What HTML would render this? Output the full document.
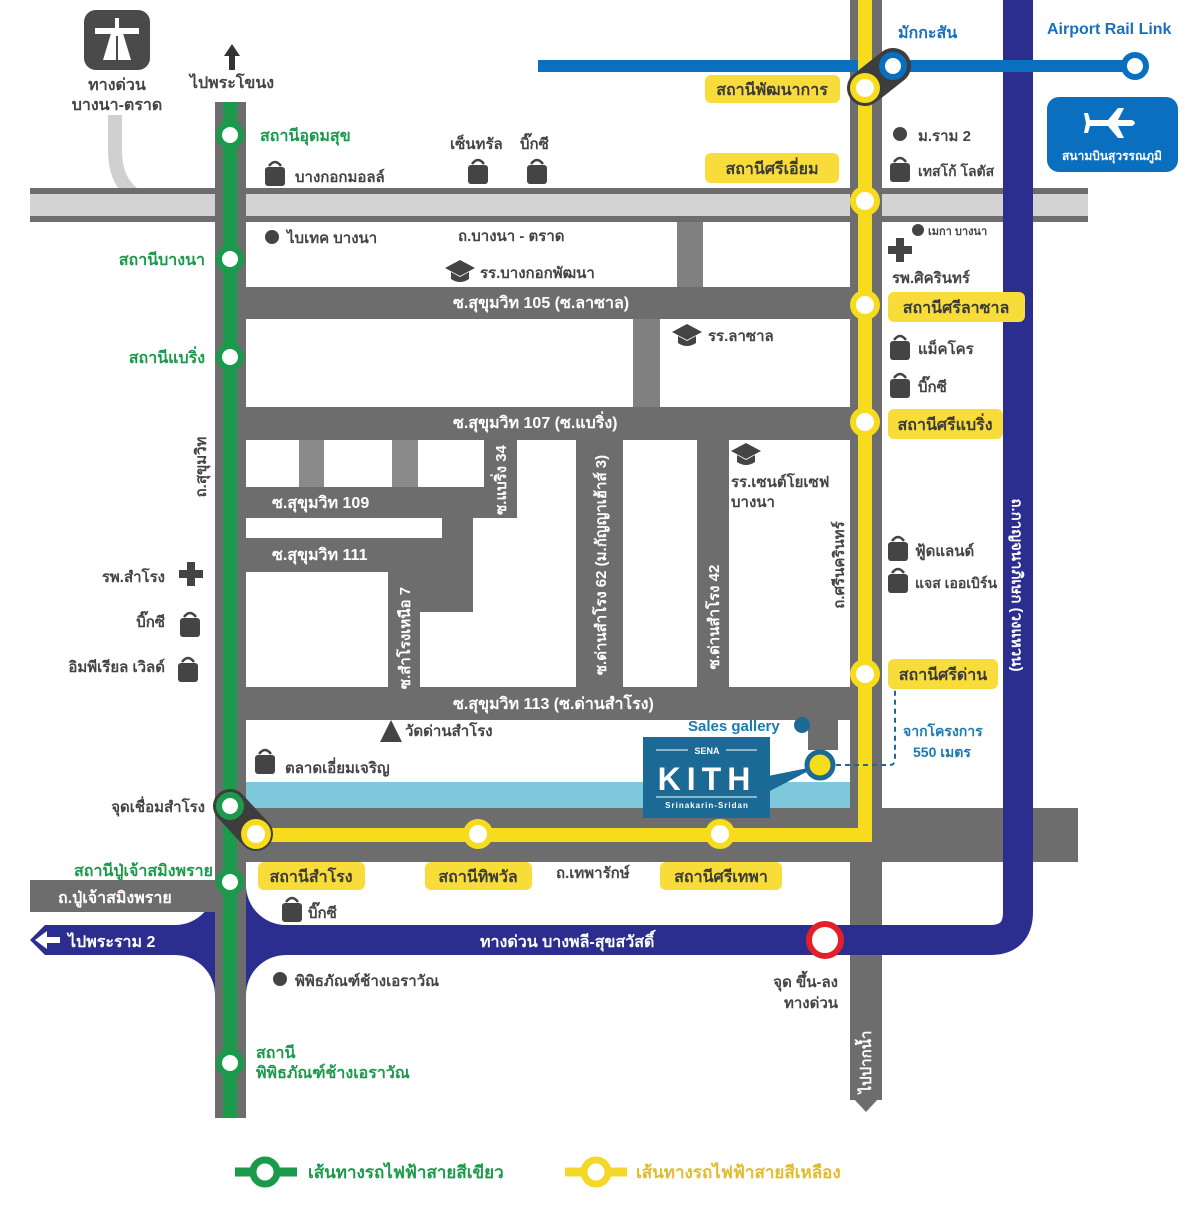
<!DOCTYPE html>
<html><head><meta charset="utf-8">
<style>
html,body{margin:0;padding:0;background:#fff;}
svg{display:block;}
text{font-family:"Liberation Sans","DejaVu Sans",sans-serif;font-weight:bold;}
</style></head>
<body>
<svg width="1200" height="1211" viewBox="0 0 1200 1211" xmlns="http://www.w3.org/2000/svg">
<defs>
  <g id="bag"><path d="M4 4 Q10 -4 16 4" fill="none" stroke="#444" stroke-width="2.5"/><rect x="0" y="5" width="20" height="19" rx="3" fill="#444"/></g>
  <g id="cap"><polygon points="0,8 15,0 30,8 15,16" fill="#444"/><path d="M6 12 V19 Q15 25 24 19 V12 L15 17 Z" fill="#444"/></g>
  <g id="cross"><rect x="-4" y="-12" width="8" height="24" fill="#444"/><rect x="-12" y="-4" width="24" height="8" fill="#444"/></g>
</defs>

<rect x="84" y="10" width="66" height="60" rx="12" fill="#4a4a4a"/>
<polygon points="103,60 112,30 122,30 131,60" fill="#fff"/>
<rect x="95" y="28" width="44" height="6" fill="#fff"/>
<rect x="115" y="18" width="4" height="12" fill="#fff"/>
<line x1="117" y1="36" x2="117" y2="60" stroke="#4a4a4a" stroke-width="2"/>
<text x="117" y="90" font-size="16" fill="#444" text-anchor="middle">ทางด่วน</text>
<text x="117" y="110" font-size="16" fill="#444" text-anchor="middle">บางนา-ตราด</text>
<polygon points="232,44 224,56 229,56 229,70 235,70 235,56 240,56" fill="#333"/>
<text x="232" y="88" font-size="16" fill="#444" text-anchor="middle">ไปพระโขนง</text>

<path d="M115 115 V150 Q115 205 175 205" fill="none" stroke="#d0d0d0" stroke-width="14"/>

<rect x="30" y="188" width="1058" height="34" fill="#6d6d6d"/>
<rect x="30" y="194" width="1058" height="22" fill="#d3d3d3"/>

<rect x="215" y="102" width="31" height="1016" fill="#6d6d6d"/>
<rect x="246" y="222" width="604" height="588" fill="#6d6d6d"/>
<rect x="850" y="0" width="32" height="1100" fill="#6d6d6d"/>
<polygon points="853,1098 879,1098 866,1112" fill="#6d6d6d"/>
<rect x="230" y="808" width="848" height="54" fill="#6d6d6d"/>

<rect x="246" y="222" width="431" height="65" fill="#fff"/>
<rect x="677" y="222" width="26" height="65" fill="#808080"/>
<rect x="703" y="222" width="147" height="65" fill="#fff"/>
<rect x="246" y="319" width="387" height="88" fill="#fff"/>
<rect x="633" y="319" width="27" height="88" fill="#808080"/>
<rect x="660" y="319" width="190" height="88" fill="#fff"/>
<rect x="246" y="440" width="53" height="47" fill="#fff"/>
<rect x="299" y="440" width="25" height="47" fill="#8a8a8a"/>
<rect x="324" y="440" width="68" height="47" fill="#fff"/>
<rect x="392" y="440" width="26" height="47" fill="#8a8a8a"/>
<rect x="418" y="440" width="66" height="47" fill="#fff"/>
<rect x="246" y="518" width="196" height="20" fill="#fff"/>
<rect x="246" y="572" width="142" height="115" fill="#fff"/>
<rect x="420" y="612" width="53" height="75" fill="#fff"/>
<rect x="473" y="518" width="44" height="169" fill="#fff"/>
<rect x="517" y="440" width="59" height="247" fill="#fff"/>
<rect x="623" y="440" width="74" height="247" fill="#fff"/>
<rect x="729" y="440" width="121" height="247" fill="#fff"/>
<rect x="246" y="720" width="604" height="62" fill="#fff"/>
<rect x="246" y="782" width="604" height="26" fill="#7ec8dc"/>
<rect x="808" y="720" width="30" height="30" fill="#6d6d6d"/>

<path d="M1018 0 V912 Q1018 940 990 940 H45" fill="none" stroke="#2b2e8e" stroke-width="30"/>
<polygon points="30,940 45,925 45,955" fill="#2b2e8e"/>
<path d="M215,885 V925 H175 A40,40 0 0 0 215,885 Z" fill="#2b2e8e"/>
<path d="M246,885 V925 H286 A40,40 0 0 1 246,885 Z" fill="#2b2e8e"/>
<path d="M215,995 V955 H175 A40,40 0 0 1 215,995 Z" fill="#2b2e8e"/>
<path d="M246,995 V955 H286 A40,40 0 0 0 246,995 Z" fill="#2b2e8e"/>
<rect x="215" y="880" width="31" height="120" fill="#6d6d6d"/>
<rect x="30" y="880" width="185" height="32" fill="#6d6d6d"/>

<line x1="538" y1="66" x2="1135" y2="66" stroke="#0b6fc0" stroke-width="12"/>

<line x1="230" y1="102" x2="230" y2="1118" stroke="#1a9a4a" stroke-width="14"/>
<polyline points="865,0 865,835 255,835" fill="none" stroke="#f7dc1e" stroke-width="14"/>

<line x1="230" y1="806" x2="256" y2="834" stroke="#3d3d3d" stroke-width="34" stroke-linecap="round"/>
<line x1="865" y1="88" x2="893" y2="66" stroke="#3d3d3d" stroke-width="36" stroke-linecap="round"/>

<g fill="#fff" stroke="#1a9a4a" stroke-width="6">
<circle cx="230" cy="135" r="11"/><circle cx="230" cy="259" r="11"/><circle cx="230" cy="357" r="11"/>
<circle cx="230" cy="806" r="11"/><circle cx="230" cy="882" r="11"/><circle cx="230" cy="1063" r="11"/>
</g>
<g fill="#fff" stroke="#f7dc1e" stroke-width="6">
<circle cx="865" cy="88" r="12"/><circle cx="865" cy="201" r="12"/><circle cx="865" cy="305" r="12"/>
<circle cx="865" cy="422" r="12"/><circle cx="865" cy="674" r="12"/><circle cx="256" cy="834" r="12"/>
<circle cx="478" cy="834" r="12"/><circle cx="720" cy="834" r="12"/>
</g>
<g fill="#fff" stroke="#0b6fc0" stroke-width="6">
<circle cx="893" cy="66" r="11"/><circle cx="1135" cy="66" r="11"/>
</g>
<circle cx="825" cy="940" r="16" fill="#fff" stroke="#e3202a" stroke-width="6"/>

<g fill="#f7dc3a">
<rect x="705" y="75" width="135" height="28" rx="6"/>
<rect x="705" y="153" width="134" height="30" rx="6"/>
<rect x="888" y="292" width="137" height="30" rx="6"/>
<rect x="888" y="409" width="115" height="30" rx="6"/>
<rect x="888" y="659" width="110" height="30" rx="6"/>
<rect x="258" y="862" width="107" height="28" rx="6"/>
<rect x="425" y="862" width="107" height="28" rx="6"/>
<rect x="660" y="862" width="122" height="28" rx="6"/>
</g>
<g font-size="16" fill="#3a3a3a" text-anchor="middle">
<text x="772" y="95">สถานีพัฒนาการ</text>
<text x="772" y="174">สถานีศรีเอี่ยม</text>
<text x="956" y="313">สถานีศรีลาซาล</text>
<text x="945" y="430">สถานีศรีแบริ่ง</text>
<text x="943" y="680">สถานีศรีด่าน</text>
<text x="311" y="882">สถานีสำโรง</text>
<text x="478" y="882">สถานีทิพวัล</text>
<text x="721" y="882">สถานีศรีเทพา</text>
</g>

<g font-size="16" fill="#1a9a4a">
<text x="260" y="141">สถานีอุดมสุข</text>
<text x="205" y="265" text-anchor="end">สถานีบางนา</text>
<text x="205" y="363" text-anchor="end">สถานีแบริ่ง</text>
<text x="213" y="876" text-anchor="end">สถานีปู่เจ้าสมิงพราย</text>
<text x="256" y="1058">สถานี</text>
<text x="256" y="1078">พิพิธภัณฑ์ช้างเอราวัณ</text>
</g>

<text x="898" y="38" font-size="16" fill="#1a6fc0">มักกะสัน</text>
<text x="1047" y="34" font-size="16" fill="#1a6fc0">Airport Rail Link</text>
<rect x="1047" y="97" width="131" height="75" rx="12" fill="#0b6fc0"/>
<path d="M1090 120 L1108 120 L1118 108 L1124 108 L1118 120 L1132 120 Q1138 123 1132 126 L1118 126 L1124 138 L1118 138 L1108 126 L1090 126 L1088 133 L1084 133 L1086 123 L1084 113 L1088 113 Z" fill="#fff"/>
<text x="1112" y="160" font-size="12" fill="#fff" text-anchor="middle">สนามบินสุวรรณภูมิ</text>

<g font-size="15" fill="#444">
<use href="#bag" x="265" y="162"/><text x="295" y="182">บางกอกมอลล์</text>
<text x="450" y="149">เซ็นทรัล</text><text x="520" y="149">บิ๊กซี</text>
<use href="#bag" x="468" y="160"/><use href="#bag" x="527" y="160"/>
<circle cx="900" cy="134" r="7" fill="#444"/><text x="918" y="141">ม.ราม 2</text>
<use href="#bag" x="890" y="158"/><text x="918" y="176" font-size="14">เทสโก้ โลตัส</text>
<circle cx="272" cy="237" r="7" fill="#444"/><text x="287" y="243">ไบเทค บางนา</text>
<text x="458" y="241">ถ.บางนา - ตราด</text>
<use href="#cap" x="445" y="260"/><text x="480" y="278">รร.บางกอกพัฒนา</text>
<circle cx="918" cy="230" r="6" fill="#444"/><text x="928" y="235" font-size="11">เมกา บางนา</text>
<use href="#cross" x="900" y="250"/><text x="892" y="283">รพ.ศิครินทร์</text>
<use href="#cap" x="672" y="324"/><text x="708" y="341">รร.ลาซาล</text>
<use href="#bag" x="890" y="336"/><text x="918" y="354">แม็คโคร</text>
<use href="#bag" x="890" y="374"/><text x="918" y="392">บิ๊กซี</text>
<use href="#cap" x="731" y="443"/>
<text x="731" y="487">รร.เซนต์โยเซฟ</text><text x="731" y="507">บางนา</text>
<use href="#bag" x="888" y="537"/><text x="915" y="556">ฟู้ดแลนด์</text>
<use href="#bag" x="888" y="569"/><text x="915" y="588" font-size="14">แจส เออเบิร์น</text>
<text x="165" y="582" text-anchor="end">รพ.สำโรง</text><use href="#cross" x="191" y="574"/>
<text x="165" y="627" text-anchor="end">บิ๊กซี</text><use href="#bag" x="180" y="613"/>
<text x="165" y="672" text-anchor="end">อิมพีเรียล เวิลด์</text><use href="#bag" x="178" y="658"/>
<polygon points="391,720 380,742 402,742" fill="#444"/><text x="405" y="736">วัดด่านสำโรง</text>
<use href="#bag" x="255" y="750"/><text x="285" y="773">ตลาดเอี่ยมเจริญ</text>
<text x="205" y="812" text-anchor="end">จุดเชื่อมสำโรง</text>
<use href="#bag" x="282" y="898"/><text x="308" y="918">บิ๊กซี</text>
<text x="556" y="878">ถ.เทพารักษ์</text>
<circle cx="280" cy="979" r="7" fill="#444"/><text x="295" y="986">พิพิธภัณฑ์ช้างเอราวัณ</text>
<text x="838" y="987" text-anchor="end">จุด ขึ้น-ลง</text>
<text x="838" y="1008" text-anchor="end">ทางด่วน</text>
</g>

<g font-size="16" fill="#fff">
<text x="453" y="308">ซ.สุขุมวิท 105 (ซ.ลาซาล)</text>
<text x="453" y="428">ซ.สุขุมวิท 107 (ซ.แบริ่ง)</text>
<text x="272" y="508">ซ.สุขุมวิท 109</text>
<text x="272" y="560">ซ.สุขุมวิท 111</text>
<text x="453" y="709">ซ.สุขุมวิท 113 (ซ.ด่านสำโรง)</text>
<text x="58" y="903">ถ.ปู่เจ้าสมิงพราย</text>
<text x="68" y="947">ไปพระราม 2</text>
<text x="480" y="947">ทางด่วน บางพลี-สุขสวัสดิ์</text>
<text font-size="15" transform="translate(506,480) rotate(-90)" text-anchor="middle">ซ.แบริ่ง 34</text>
<text font-size="15" transform="translate(606,565) rotate(-90)" text-anchor="middle">ซ.ด่านสำโรง 62 (ม.กัญญาเฮ้าส์ 3)</text>
<text font-size="15" transform="translate(410,638) rotate(-90)" text-anchor="middle">ซ.สำโรงเหนือ 7</text>
<text font-size="15" transform="translate(719,617) rotate(-90)" text-anchor="middle">ซ.ด่านสำโรง 42</text>
<text font-size="15" transform="translate(871,1062) rotate(-90)" text-anchor="middle">ไปปากน้ำ</text>
<text font-size="15" transform="translate(1012,585) rotate(90)" text-anchor="middle">ถ.กาญจนาภิเษก (วงแหวน)</text>
</g>
<polygon points="35,940 47,931 47,937 60,937 60,943 47,943 47,949" fill="#fff"/>
<g font-size="15" fill="#444">
<text transform="translate(844,565) rotate(-90)" text-anchor="middle">ถ.ศรีนครินทร์</text>
<text transform="translate(206,467) rotate(-90)" text-anchor="middle">ถ.สุขุมวิท</text>
</g>

<polygon points="768,776 768,792 818,766" fill="#1a6a95"/>
<rect x="643" y="737" width="127" height="81" fill="#1a6a95"/>
<line x1="656" y1="750" x2="688" y2="750" stroke="#fff" stroke-width="1"/>
<line x1="726" y1="750" x2="757" y2="750" stroke="#fff" stroke-width="1"/>
<text x="707" y="754" font-size="9" fill="#fff" text-anchor="middle">SENA</text>
<text x="707" y="790" font-size="32" fill="#fff" text-anchor="middle" letter-spacing="6" font-weight="normal">KITH</text>
<line x1="656" y1="797" x2="757" y2="797" stroke="#fff" stroke-width="1"/>
<text x="707" y="808" font-size="8" fill="#fff" text-anchor="middle" letter-spacing="1">Srinakarin-Sridan</text>
<circle cx="820" cy="765" r="13" fill="#f7dc1e" stroke="#1a6a95" stroke-width="5"/>
<text x="688" y="731" font-size="15" fill="#1a7ab0">Sales gallery</text>
<circle cx="802" cy="725" r="8" fill="#1a6a95"/>
<path d="M836 765 H890 Q895 765 895 758 V690" fill="none" stroke="#1a6a95" stroke-width="2" stroke-dasharray="5,4"/>
<text x="903" y="736" font-size="14" fill="#1a7ab0">จากโครงการ</text>
<text x="913" y="757" font-size="14" fill="#1a7ab0">550 เมตร</text>

<line x1="235" y1="1172" x2="297" y2="1172" stroke="#1a9a4a" stroke-width="9"/>
<circle cx="265" cy="1172" r="12" fill="#fff" stroke="#1a9a4a" stroke-width="7"/>
<text x="308" y="1178" font-size="17" fill="#1a9a4a">เส้นทางรถไฟฟ้าสายสีเขียว</text>
<line x1="565" y1="1172" x2="627" y2="1172" stroke="#f3d829" stroke-width="9"/>
<circle cx="596" cy="1172" r="12" fill="#fff" stroke="#f3d829" stroke-width="7"/>
<text x="636" y="1178" font-size="17" fill="#e0bc2c">เส้นทางรถไฟฟ้าสายสีเหลือง</text>
</svg>
</body></html>
